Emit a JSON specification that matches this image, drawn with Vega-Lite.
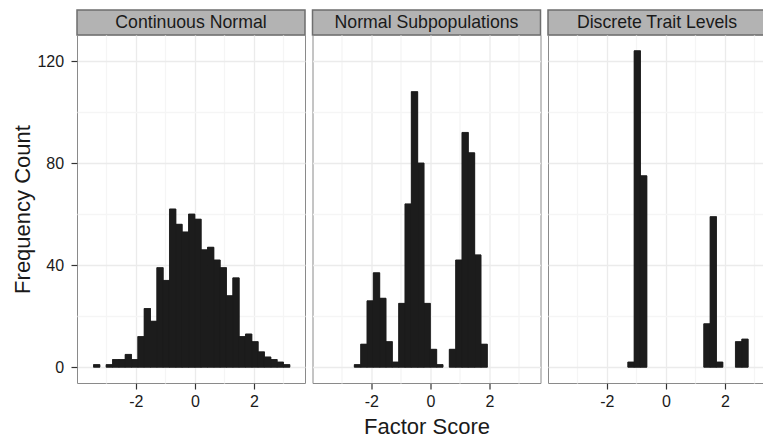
{
  "$schema": "https://vega.github.io/schema/vega-lite/v6.json",
  "padding": {"left": 11, "top": 9, "right": 0, "bottom": 0},
  "background": "white",
  "config": {
    "font": "Liberation Sans",
    "view": {"stroke": "#8a8a8a", "strokeWidth": 1},
    "axis": {
      "labelFont": "Liberation Sans", "titleFont": "Liberation Sans",
      "labelFontSize": 16, "titleFontSize": 22, "titleFontWeight": "normal",
      "labelColor": "#1a1a1a", "titleColor": "#1a1a1a",
      "tickColor": "#333333", "tickSize": 6, "tickWidth": 1.2,
      "domain": false, "gridColor": "#EBEBEB", "gridWidth": 1.3
    },
    "rect": {"color": "#1c1c1c", "stroke": "#1c1c1c", "strokeWidth": 0.6}
  },
  "datasets": {
    "hist": [
      {"panel": "Continuous Normal", "start": -3.430, "end": -3.216, "count": 1},
      {"panel": "Continuous Normal", "start": -3.002, "end": -2.787, "count": 1},
      {"panel": "Continuous Normal", "start": -2.787, "end": -2.573, "count": 3},
      {"panel": "Continuous Normal", "start": -2.573, "end": -2.358, "count": 3},
      {"panel": "Continuous Normal", "start": -2.358, "end": -2.144, "count": 5},
      {"panel": "Continuous Normal", "start": -2.144, "end": -1.930, "count": 3},
      {"panel": "Continuous Normal", "start": -1.930, "end": -1.715, "count": 12},
      {"panel": "Continuous Normal", "start": -1.715, "end": -1.501, "count": 23},
      {"panel": "Continuous Normal", "start": -1.501, "end": -1.286, "count": 18},
      {"panel": "Continuous Normal", "start": -1.286, "end": -1.072, "count": 39},
      {"panel": "Continuous Normal", "start": -1.072, "end": -0.858, "count": 34},
      {"panel": "Continuous Normal", "start": -0.858, "end": -0.643, "count": 62},
      {"panel": "Continuous Normal", "start": -0.643, "end": -0.429, "count": 56},
      {"panel": "Continuous Normal", "start": -0.429, "end": -0.214, "count": 53},
      {"panel": "Continuous Normal", "start": -0.214, "end": 0.0, "count": 60},
      {"panel": "Continuous Normal", "start": 0.0, "end": 0.214, "count": 58},
      {"panel": "Continuous Normal", "start": 0.214, "end": 0.429, "count": 46},
      {"panel": "Continuous Normal", "start": 0.429, "end": 0.643, "count": 47},
      {"panel": "Continuous Normal", "start": 0.643, "end": 0.858, "count": 42},
      {"panel": "Continuous Normal", "start": 0.858, "end": 1.072, "count": 39},
      {"panel": "Continuous Normal", "start": 1.072, "end": 1.286, "count": 28},
      {"panel": "Continuous Normal", "start": 1.286, "end": 1.501, "count": 35},
      {"panel": "Continuous Normal", "start": 1.501, "end": 1.715, "count": 12},
      {"panel": "Continuous Normal", "start": 1.715, "end": 1.930, "count": 13},
      {"panel": "Continuous Normal", "start": 1.930, "end": 2.144, "count": 10},
      {"panel": "Continuous Normal", "start": 2.144, "end": 2.358, "count": 6},
      {"panel": "Continuous Normal", "start": 2.358, "end": 2.573, "count": 4},
      {"panel": "Continuous Normal", "start": 2.573, "end": 2.787, "count": 3},
      {"panel": "Continuous Normal", "start": 2.787, "end": 3.002, "count": 2},
      {"panel": "Continuous Normal", "start": 3.002, "end": 3.216, "count": 1},
      {"panel": "Normal Subpopulations", "start": -2.573, "end": -2.358, "count": 1},
      {"panel": "Normal Subpopulations", "start": -2.358, "end": -2.144, "count": 9},
      {"panel": "Normal Subpopulations", "start": -2.144, "end": -1.930, "count": 26},
      {"panel": "Normal Subpopulations", "start": -1.930, "end": -1.715, "count": 37},
      {"panel": "Normal Subpopulations", "start": -1.715, "end": -1.501, "count": 27},
      {"panel": "Normal Subpopulations", "start": -1.501, "end": -1.286, "count": 10},
      {"panel": "Normal Subpopulations", "start": -1.286, "end": -1.072, "count": 2},
      {"panel": "Normal Subpopulations", "start": -1.072, "end": -0.858, "count": 25},
      {"panel": "Normal Subpopulations", "start": -0.858, "end": -0.643, "count": 64},
      {"panel": "Normal Subpopulations", "start": -0.643, "end": -0.429, "count": 108},
      {"panel": "Normal Subpopulations", "start": -0.429, "end": -0.214, "count": 80},
      {"panel": "Normal Subpopulations", "start": -0.214, "end": 0.0, "count": 25},
      {"panel": "Normal Subpopulations", "start": 0.0, "end": 0.214, "count": 7},
      {"panel": "Normal Subpopulations", "start": 0.214, "end": 0.429, "count": 1},
      {"panel": "Normal Subpopulations", "start": 0.643, "end": 0.858, "count": 7},
      {"panel": "Normal Subpopulations", "start": 0.858, "end": 1.072, "count": 42},
      {"panel": "Normal Subpopulations", "start": 1.072, "end": 1.286, "count": 92},
      {"panel": "Normal Subpopulations", "start": 1.286, "end": 1.501, "count": 84},
      {"panel": "Normal Subpopulations", "start": 1.501, "end": 1.715, "count": 44},
      {"panel": "Normal Subpopulations", "start": 1.715, "end": 1.930, "count": 9},
      {"panel": "Discrete Trait Levels", "start": -1.286, "end": -1.072, "count": 2},
      {"panel": "Discrete Trait Levels", "start": -1.072, "end": -0.858, "count": 124},
      {"panel": "Discrete Trait Levels", "start": -0.858, "end": -0.643, "count": 75},
      {"panel": "Discrete Trait Levels", "start": 1.286, "end": 1.501, "count": 17},
      {"panel": "Discrete Trait Levels", "start": 1.501, "end": 1.715, "count": 59},
      {"panel": "Discrete Trait Levels", "start": 1.715, "end": 1.930, "count": 2},
      {"panel": "Discrete Trait Levels", "start": 2.358, "end": 2.573, "count": 10},
      {"panel": "Discrete Trait Levels", "start": 2.573, "end": 2.787, "count": 11}
    ]
  },
  "columns": 3,
  "spacing": {"row": 0, "column": 7.5},
  "bounds": "flush",
  "concat": [
    {
      "width": 228, "height": 25,
      "data": {"values": [{"label": "Continuous Normal"}]},
      "mark": {"type": "text", "fontSize": 17.7, "color": "#1a1a1a", "baseline": "middle", "font": "Liberation Sans"},
      "encoding": {"text": {"field": "label"}},
      "view": {"fill": "#B3B3B3", "stroke": "#6e6e6e", "strokeWidth": 1.5}
    },
    {
      "width": 228, "height": 25,
      "data": {"values": [{"label": "Normal Subpopulations"}]},
      "mark": {"type": "text", "fontSize": 17.7, "color": "#1a1a1a", "baseline": "middle", "font": "Liberation Sans"},
      "encoding": {"text": {"field": "label"}},
      "view": {"fill": "#B3B3B3", "stroke": "#6e6e6e", "strokeWidth": 1.5}
    },
    {
      "width": 218, "height": 25,
      "data": {"values": [{"label": "Discrete Trait Levels"}]},
      "mark": {"type": "text", "fontSize": 17.7, "color": "#1a1a1a", "baseline": "middle", "font": "Liberation Sans"},
      "encoding": {"text": {"field": "label"}},
      "view": {"fill": "#B3B3B3", "stroke": "#6e6e6e", "strokeWidth": 1.5}
    },
    {
      "width": 228, "height": 348,
      "data": {"name": "hist"},
      "transform": [{"filter": "datum.panel === 'Continuous Normal'"}],
      "layer": [
        {
          "mark": {"type": "rect"},
          "encoding": {
            "x": {"field": "start", "type": "quantitative", "scale": {"domain": [-3.99, 3.73], "nice": false, "zero": false},
                  "axis": {"values": [-3, -1, 1, 3], "grid": true, "gridColor": "#F5F5F5", "labels": false, "ticks": false, "title": null, "orient": "top"}},
            "x2": {"field": "end"},
            "y": {"field": "count", "type": "quantitative", "scale": {"domain": [-6.2, 130.2], "nice": false, "zero": false},
                  "axis": {"values": [20, 60, 100], "grid": true, "gridColor": "#F5F5F5", "labels": false, "ticks": false, "title": null, "orient": "right"}},
            "y2": {"datum": 0}
          }
        },
        {
          "mark": {"type": "rect"},
          "encoding": {
            "x": {"field": "start", "type": "quantitative",
                  "axis": {"values": [-2, 0, 2], "grid": true, "title": null, "orient": "bottom", "labelPadding": 4,
                           "labelExpr": "datum.value < 0 ? '-' + abs(datum.value) : '' + datum.value"}},
            "x2": {"field": "end"},
            "y": {"field": "count", "type": "quantitative",
                  "axis": {"values": [0, 40, 80, 120], "grid": true, "title": "Frequency Count", "orient": "left", "labelPadding": 7.4, "titlePadding": 2}},
            "y2": {"datum": 0}
          }
        }
      ],
      "resolve": {"axis": {"x": "independent", "y": "independent"}}
    },
    {
      "width": 228, "height": 348,
      "data": {"name": "hist"},
      "transform": [{"filter": "datum.panel === 'Normal Subpopulations'"}],
      "layer": [
        {
          "mark": {"type": "rect"},
          "encoding": {
            "x": {"field": "start", "type": "quantitative", "scale": {"domain": [-3.99, 3.73], "nice": false, "zero": false},
                  "axis": {"values": [-3, -1, 1, 3], "grid": true, "gridColor": "#F5F5F5", "labels": false, "ticks": false, "title": null, "orient": "top"}},
            "x2": {"field": "end"},
            "y": {"field": "count", "type": "quantitative", "scale": {"domain": [-6.2, 130.2], "nice": false, "zero": false},
                  "axis": {"values": [20, 60, 100], "grid": true, "gridColor": "#F5F5F5", "labels": false, "ticks": false, "title": null, "orient": "right"}},
            "y2": {"datum": 0}
          }
        },
        {
          "mark": {"type": "rect"},
          "encoding": {
            "x": {"field": "start", "type": "quantitative",
                  "axis": {"values": [-2, 0, 2], "grid": true, "title": "Factor Score", "orient": "bottom", "labelPadding": 4, "titlePadding": 7,
                           "labelExpr": "datum.value < 0 ? '-' + abs(datum.value) : '' + datum.value"}},
            "x2": {"field": "end"},
            "y": {"field": "count", "type": "quantitative",
                  "axis": {"values": [0, 40, 80, 120], "grid": true, "labels": false, "ticks": false, "title": null, "orient": "left"}},
            "y2": {"datum": 0}
          }
        }
      ],
      "resolve": {"axis": {"x": "independent", "y": "independent"}}
    },
    {
      "width": 218, "height": 348,
      "data": {"name": "hist"},
      "transform": [{"filter": "datum.panel === 'Discrete Trait Levels'"}],
      "layer": [
        {
          "mark": {"type": "rect"},
          "encoding": {
            "x": {"field": "start", "type": "quantitative", "scale": {"domain": [-3.99, 3.392], "nice": false, "zero": false},
                  "axis": {"values": [-3, -1, 1, 3], "grid": true, "gridColor": "#F5F5F5", "labels": false, "ticks": false, "title": null, "orient": "top"}},
            "x2": {"field": "end"},
            "y": {"field": "count", "type": "quantitative", "scale": {"domain": [-6.2, 130.2], "nice": false, "zero": false},
                  "axis": {"values": [20, 60, 100], "grid": true, "gridColor": "#F5F5F5", "labels": false, "ticks": false, "title": null, "orient": "right"}},
            "y2": {"datum": 0}
          }
        },
        {
          "mark": {"type": "rect"},
          "encoding": {
            "x": {"field": "start", "type": "quantitative",
                  "axis": {"values": [-2, 0, 2], "grid": true, "title": null, "orient": "bottom", "labelPadding": 4,
                           "labelExpr": "datum.value < 0 ? '-' + abs(datum.value) : '' + datum.value"}},
            "x2": {"field": "end"},
            "y": {"field": "count", "type": "quantitative",
                  "axis": {"values": [0, 40, 80, 120], "grid": true, "labels": false, "ticks": false, "title": null, "orient": "left"}},
            "y2": {"datum": 0}
          }
        }
      ],
      "resolve": {"axis": {"x": "independent", "y": "independent"}}
    }
  ]
}
